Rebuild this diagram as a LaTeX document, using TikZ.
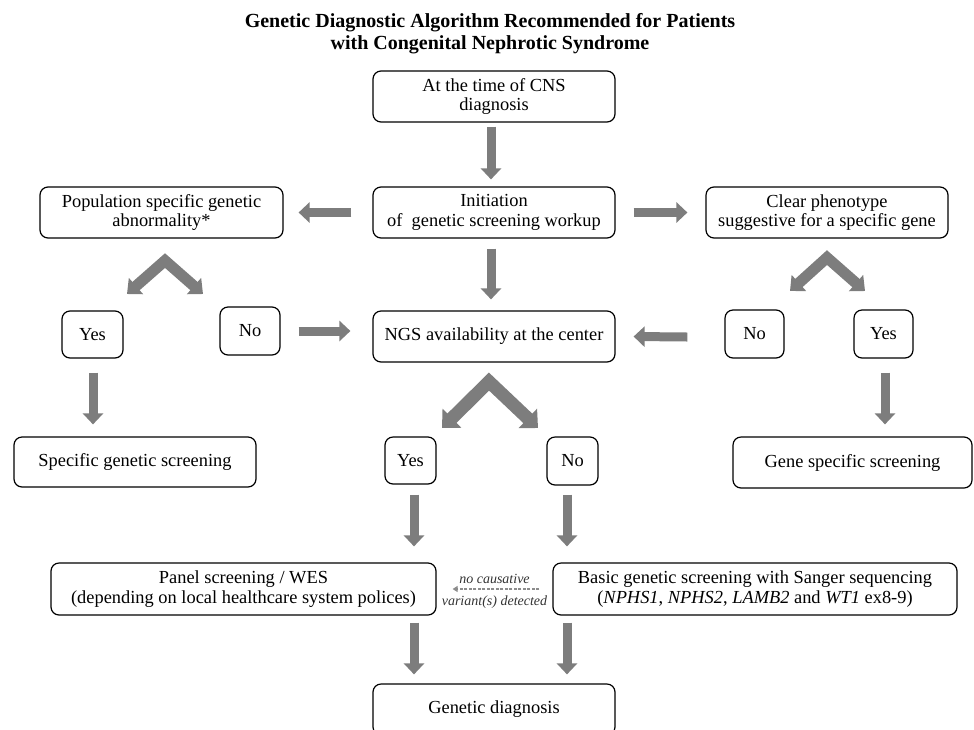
\documentclass[tikz,border=0pt]{standalone}
\usepackage{fontspec}
\setmainfont{Liberation Serif}
\usetikzlibrary{arrows.meta,calc}
\definecolor{arrowgray}{RGB}{125,125,125}
\definecolor{dashgray}{RGB}{140,140,140}
\begin{document}
\begin{tikzpicture}[x=1pt,y=-1pt,
  box/.style={draw, line width=1.2pt, rounded corners=8pt, align=center, inner sep=0pt,
    font=\fontsize{18.4}{19.5}\selectfont},
  barrow/.style={draw=arrowgray, line width=9pt, -{Triangle[width=20pt,length=11pt]}},
  chevL/.style={draw=arrowgray, line width=11pt, line join=miter,
    {Triangle[width=21pt,length=12pt]}-{Triangle[width=21pt,length=12pt]}},
  chevM/.style={draw=arrowgray, line width=13pt, line join=miter,
    {Triangle[width=26pt,length=14pt]}-{Triangle[width=26pt,length=14pt]}},
  dasharrow/.style={draw=dashgray, line width=1.1pt, dash pattern=on 3pt off 1.5pt, -{Triangle[width=6pt,length=5pt]}},
  lbl/.style={font=\fontsize{14}{15}\selectfont\itshape, inner sep=0pt, text=black!80}
]
\useasboundingbox (0,0) rectangle (974,729);
\begin{scope}
\clip (0,0) rectangle (974,729);

% title
\node[font=\fontsize{20}{22}\selectfont\bfseries, align=center, inner sep=0pt] (title) at (490,34)
  {Genetic Diagnostic Algorithm Recommended for Patients\\with Congenital Nephrotic Syndrome};

% boxes
\node[box, minimum width=242pt, minimum height=51pt] (cns) at (494,96.5) {At the time of CNS\\diagnosis};
\node[box, minimum width=242pt, minimum height=51pt] (init) at (494,212.5) {Initiation\\of~ genetic screening workup};
\node[box, minimum width=243pt, minimum height=51pt] (pop) at (161.5,212.5) {Population specific genetic\\abnormality*};
\node[box, minimum width=242pt, minimum height=51pt] (clear) at (827,212.5) {Clear phenotype\\suggestive for a specific gene};

\node[box, minimum width=61pt, minimum height=47pt] (yesL) at (92.5,334.5) {Yes};
\node[box, minimum width=60pt, minimum height=48pt] (noL) at (250,331) {No};
\node[box, minimum width=242pt, minimum height=51pt] (ngs) at (494,336.5) {NGS availability at the center};
\node[box, minimum width=59pt, minimum height=48pt] (noR) at (754.5,334) {No};
\node[box, minimum width=59pt, minimum height=48pt] (yesR) at (883.5,334) {Yes};

\node[box, minimum width=242pt, minimum height=50pt] (specL) at (135,462) {Specific genetic screening};
\node[box, minimum width=51pt, minimum height=47pt] (yesM) at (410.5,460.5) {Yes};
\node[box, minimum width=51pt, minimum height=48pt] (noM) at (572.5,461) {No};
\node[box, minimum width=239pt, minimum height=51pt] (geneR) at (852.5,462.5) {Gene specific screening};

\node[box, minimum width=385pt, minimum height=52pt] (panel) at (243.5,589)
  {Panel screening / WES\\(depending on local healthcare system polices)};
\node[box, minimum width=404pt, minimum height=52pt] (basic) at (755,589)
  {Basic genetic screening with Sanger sequencing\\(\textit{NPHS1}, \textit{NPHS2}, \textit{LAMB2} and \textit{WT1} ex8-9)};

\node[box, minimum width=242pt, minimum height=51pt] (gdx) at (494,709.5) {Genetic diagnosis};

% straight block arrows
\draw[barrow] ($(cns.south)+(-3,4)$) -- ($(init.north)+(-3,-7)$);
\draw[barrow] ($(init.south)+(-3,10)$) -- ($(ngs.north)+(-3,-11)$);
\draw[barrow] ($(init.west)+(-21,0)$) -- ($(pop.east)+(15,0)$);
\draw[barrow] ($(init.east)+(18,0)$) -- ($(clear.west)+(-18,0)$);
\draw[barrow] ($(noL.east)+(18,0)$) -- ($(ngs.west)+(-22,-5.5)$);
\draw[barrow] ($(noR.west)+(-37,3)$) -- ($(ngs.east)+(18,0)$);
\draw[barrow] ($(yesL.south)+(0.5,14)$) -- ($(specL.north)+(-42,-12)$);
\draw[barrow] ($(yesR.south)+(1.5,14)$) -- ($(geneR.north)+(32.5,-12)$);
\draw[barrow] ($(yesM.south)+(3.5,10)$) -- ($(panel.north)+(170.5,-16)$);
\draw[barrow] ($(noM.south)+(-5.5,9)$) -- ($(basic.north)+(-188,-16)$);
\draw[barrow] ($(panel.south)+(170.5,7)$) -- ($(gdx.north)+(-80,-9)$);
\draw[barrow] ($(basic.south)+(-188,7)$) -- ($(gdx.north)+(73,-9)$);

% chevrons
\coordinate (pa) at ($(pop.south)+(3.5,22)$);
\coordinate (pl) at (127,294);
\coordinate (pr) at (203,294);
\draw[chevL] (pl) -- (pa) -- (pr);

\coordinate (ca) at ($(clear.south)+(0,19)$);
\coordinate (cl) at (790,291);
\coordinate (cr) at (865,291);
\draw[chevL] (cl) -- (ca) -- (cr);

\coordinate (na) at ($(ngs.south)+(-5,19)$);
\coordinate (nl) at (442,428);
\coordinate (nr) at (538,428);
\draw[chevM] (nl) -- (na) -- (nr);

% dashed arrow with labels
\draw[dasharrow] ($(basic.west)+(-13,0)$) -- ($(panel.east)+(16,0)$);
\node[lbl] (nc) at ($(panel.east)!0.5!(basic.west)+(0,-10)$) {no causative};
\node[lbl] (vd) at ($(panel.east)!0.5!(basic.west)+(0,13)$) {variant(s) detected};
\end{scope}
\end{tikzpicture}
\end{document}
